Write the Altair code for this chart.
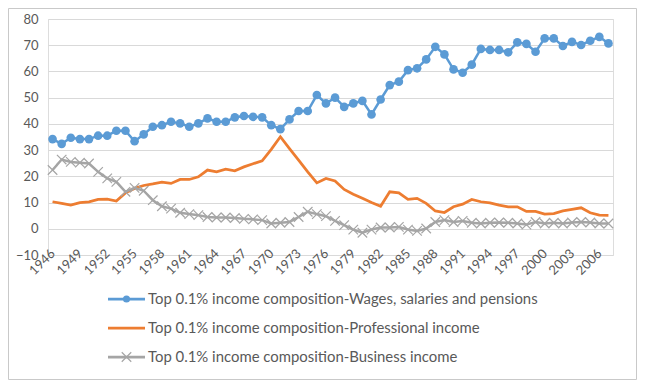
import altair as alt
import pandas as pd

years = list(range(1946, 2008))
tick_years = list(range(1946, 2008, 3))

names = [
    "Top 0.1% income composition-Wages, salaries and pensions",
    "Top 0.1% income composition-Professional income",
    "Top 0.1% income composition-Business income",
]

wages = [34.2, 32.4, 34.7, 34.2, 34.2, 35.5, 35.5, 37.4, 37.4, 33.4,
         36.0, 38.9, 39.5, 40.8, 40.2, 38.9, 40.2, 42.1, 40.8, 40.8,
         42.5, 43.0, 42.7, 42.5, 39.5, 38.0, 41.7, 44.9, 44.9, 51.0,
         47.8, 50.0, 46.5, 47.8, 48.8, 43.6, 49.3, 54.8, 56.1, 60.5,
         61.2, 64.6, 69.4, 66.5, 60.8, 59.5, 62.6, 68.6, 68.2, 68.2,
         67.3, 71.1, 70.5, 67.5, 72.6, 72.6, 69.7, 71.3, 70.1, 71.7,
         73.2, 70.7]

professional = [10.3, 9.7, 9.0, 10.0, 10.3, 11.2, 11.3, 10.6, 13.7, 15.4,
                16.5, 17.1, 17.8, 17.3, 18.8, 18.8, 19.8, 22.4, 21.7, 22.7,
                22.1, 23.6, 24.8, 25.9, 30.3, 35.1, 30.6, 26.2, 21.7, 17.5,
                19.2, 18.2, 15.0, 13.2, 11.6, 10.0, 8.6, 14.1, 13.7, 11.2,
                11.6, 9.7, 6.8, 6.2, 8.4, 9.4, 11.2, 10.3, 9.9, 9.0,
                8.4, 8.4, 6.6, 6.6, 5.6, 5.8, 6.8, 7.4, 8.0, 6.1,
                5.2, 5.1]

business = [22.4, 26.4, 25.5, 25.2, 24.9, 21.7, 19.2, 17.9, 14.1, 15.6,
            14.5, 10.9, 8.6, 7.7, 6.1, 5.6, 5.2, 4.5, 4.3, 4.3,
            4.1, 3.8, 3.6, 3.3, 2.0, 2.3, 2.6, 4.5, 6.5, 5.6,
            4.8, 3.0, 1.4, -0.3, -1.5, -0.3, 0.5, 0.5, 0.7, -0.3,
            -0.8, 0.1, 2.6, 3.3, 2.6, 3.0, 2.3, 2.0, 2.3, 2.4,
            2.3, 2.0, 1.6, 2.6, 2.0, 2.3, 2.0, 2.4, 2.6, 2.4,
            2.0, 2.0]

colors = ["#5B9BD5", "#ED7D31", "#A5A5A5"]
FONT = "Lato"
TXT = "#595959"

W, H = 565, 236
PAD = {"left": 40, "top": 11, "right": 25, "bottom": 126}

def frame(vals):
    return pd.DataFrame({"year": years, "value": vals})

x_enc = alt.X("year:O",
              scale=alt.Scale(type="point", padding=0.5),
              axis=alt.Axis(values=tick_years, labelAngle=-45, labelAlign="right",
                            labelBaseline="middle", labelPadding=-4, ticks=False,
                            domain=False, grid=False, title=None,
                            labelColor=TXT, labelFontSize=13, labelFont=FONT))
y_enc = alt.Y("value:Q",
              scale=alt.Scale(domain=[-10, 80], nice=False, zero=False),
              axis=alt.Axis(values=list(range(-10, 81, 10)), grid=True,
                            gridColor="#d9d9d9", gridWidth=1, domain=False,
                            ticks=False, labelPadding=10, title=None,
                            labelColor=TXT, labelFontSize=13, labelFont=FONT))

blue_line = alt.Chart(frame(wages)).mark_line(color=colors[0], strokeWidth=2.5).encode(x=x_enc, y=y_enc)
blue_pts = alt.Chart(frame(wages)).mark_point(shape="circle", filled=True, size=75,
                                               color=colors[0], opacity=1).encode(x=x_enc, y=y_enc)
orange_line = alt.Chart(frame(professional)).mark_line(color=colors[1], strokeWidth=2.75).encode(x=x_enc, y=y_enc)
gray_line = alt.Chart(frame(business)).mark_line(color=colors[2], strokeWidth=2.5).encode(x=x_enc, y=y_enc)
gray_pts = alt.Chart(frame(business)).mark_point(shape="M-1,-1L1,1M-1,1L1,-1", filled=False,
                                                 size=90, color=colors[2], strokeWidth=1.2,
                                                 opacity=1).encode(x=x_enc, y=y_enc)

# outer chart frame
border = alt.Chart(pd.DataFrame({"name": ["frame"]})).mark_rect(
    fill=None, stroke="#c9c9c9", strokeWidth=1).encode(
    x=alt.value(-PAD["left"] + 0.5), x2=alt.value(W + PAD["right"] - 1.5),
    y=alt.value(-PAD["top"] + 0.5), y2=alt.value(H + PAD["bottom"] - 1.5))

# manual legend
leg_layers = []
row_y = [280, 309, 338]
for i, (nm, col) in enumerate(zip(names, colors)):
    d = pd.DataFrame({"name": [nm]})
    base = alt.Chart(d)
    leg_layers.append(base.mark_rule(color=col, strokeWidth=2.75).encode(
        x=alt.value(60), x2=alt.value(97), y=alt.value(row_y[i])))
    if i == 0:
        leg_layers.append(base.mark_point(shape="circle", filled=True, size=50, color=col, opacity=1).encode(
            x=alt.value(78.5), y=alt.value(row_y[i])))
    if i == 2:
        leg_layers.append(base.mark_point(shape="M-1,-1L1,1M-1,1L1,-1", filled=False, size=90,
                                          color=col, strokeWidth=1.2, opacity=1).encode(
            x=alt.value(78.5), y=alt.value(row_y[i])))
    leg_layers.append(base.mark_text(align="left", baseline="middle", font=FONT, fontSize=14.9,
                                     color=TXT).encode(
        x=alt.value(100), y=alt.value(row_y[i] + 1), text="name:N"))

chart = alt.layer(border, blue_line, blue_pts, orange_line, gray_line, gray_pts, *leg_layers).properties(
    width=W, height=H,
    autosize=alt.AutoSizeParams(type="none"),
    padding=PAD,
).configure_view(stroke=None).configure(background="white")

chart.save("out.html", embed_options={"renderer": "svg", "actions": False})
